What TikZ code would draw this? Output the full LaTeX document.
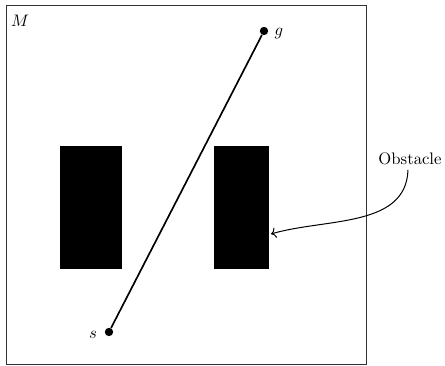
\documentclass[tikz,border=0pt]{standalone}
\usetikzlibrary{arrows.meta}
\begin{document}
\begin{tikzpicture}[x=0.6pt,y=-0.6pt,
  obst/.style={fill=black,draw=none,inner sep=0pt},
  dot/.style={circle,fill=black,inner sep=0pt,minimum size=5pt},
  lbl/.style={inner sep=1pt}]
\useasboundingbox (0,0) rectangle (445,366);
\draw[line width=0.5pt,black!80] (6,5) rectangle (366,364);
\node[lbl] (M) at (20,21) {$M$};
\node[obst,minimum width=37.2pt,minimum height=73.8pt] (o1) at (91,207.5) {};
\node[obst,minimum width=33pt,minimum height=73.8pt] (o2) at (241.5,207.5) {};
\node[dot] (s) at (109,332) {};
\node[dot] (g) at (264,31) {};
\node[lbl] (sl) at (93,335) {$s$};
\node[lbl] (gl) at (279,34) {$g$};
\draw[line width=1pt] (s) -- (g);
\node[lbl] (obl) at (410,159) {Obstacle};
\coordinate (a0) at (408,170);
\coordinate (a1) at (271,234);
\draw[line width=0.6pt,-{To[length=3pt]}] (a0) .. controls (406,228) and (325,218) .. (a1);
\end{tikzpicture}
\end{document}
